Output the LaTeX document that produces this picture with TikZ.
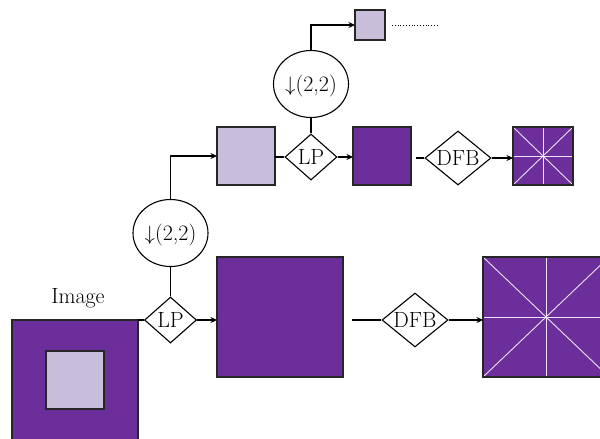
\documentclass[tikz,border=0pt]{standalone}
\usetikzlibrary{shapes.geometric,arrows.meta,calc}
\definecolor{dpurple}{RGB}{108,46,155}
\definecolor{lpurple}{RGB}{200,190,217}
\definecolor{wline}{RGB}{236,228,246}
\begin{document}
\begin{tikzpicture}[x=1pt,y=1pt,
  line width=1.1pt,
  lbl/.style={font=\fontsize{22}{26}\selectfont, text height=14pt, text depth=0pt},
  dbox/.style={draw=black!85, fill=dpurple, line width=1.1pt, inner sep=0pt, outer sep=0pt},
  lbox/.style={draw=black!85, fill=lpurple, line width=1.1pt, inner sep=0pt, outer sep=0pt},
  filt/.style={draw, shape=diamond, lbl, inner sep=0pt, shape aspect=1.3, fill=white},
  down/.style={draw, shape=ellipse, lbl, inner xsep=-9pt, inner ysep=0pt, minimum width=75pt, minimum height=67pt, fill=white},
  arr/.style={-{Stealth[length=6.5pt,width=6pt]}},
  dir/.style={draw=wline, line width=0.9pt}]
\useasboundingbox (0,0) rectangle (600,-439);
\clip (0,0) rectangle (600,-439);

% input image
\node[dbox, minimum width=126pt, minimum height=126pt] (img) at (75,-383) {};
\node[lbox, minimum width=58pt, minimum height=58pt] (inner) at (75,-380) {};
\node[lbl, text height=15pt, text depth=5pt] (imglbl) at (78,-298) {Image};

% first level
\node[filt, minimum width=52pt, minimum height=46pt] (lp1) at (170.5,-320) {LP};
\node[dbox, minimum width=126pt, minimum height=120pt] (big2) at (280,-317) {};
\node[filt, minimum width=66pt, minimum height=54pt] (dfb1) at (415,-320) {DFB};
\node[dbox, minimum width=126pt, minimum height=120pt] (big4) at (546,-317) {};
\node[down] (c1) at (170.5,-233) {$\downarrow$(2,2)};

% second level
\node[lbox, minimum width=58pt, minimum height=58pt] (s2) at (246,-156) {};
\node[filt, minimum width=52pt, minimum height=46pt] (lp2) at (311,-157) {LP};
\node[dbox, minimum width=58pt, minimum height=58pt] (s3) at (382,-156) {};
\node[filt, minimum width=66pt, minimum height=54pt] (dfb2) at (458,-158) {DFB};
\node[dbox, minimum width=60pt, minimum height=58pt] (s4) at (543,-156) {};
\node[down] (c2) at (311,-84) {$\downarrow$(2,2)};

% third level
\node[lbox, minimum width=30pt, minimum height=30pt] (t1) at (370,-25) {};
\coordinate (dotA) at (392,-25);
\coordinate (dotB) at (437,-25);

% directional lines
\foreach \b in {big4,s4}{
  \draw[dir] (\b.north west) -- (\b.south east);
  \draw[dir] (\b.south west) -- (\b.north east);
  \draw[dir] (\b.north) -- (\b.south);
  \draw[dir] (\b.west) -- (\b.east);
  \draw[draw=black!85, line width=1.1pt] (\b.north west) rectangle (\b.south east);
}

% connectors level 1
\draw (img.north east) -- (lp1.west);
\draw[arr] (lp1.east) -- (lp1.east -| big2.west);
\draw ($(big2.east |- dfb1.west)+(9,0)$) -- (dfb1.west);
\draw[arr] (dfb1.east) -- (dfb1.east -| big4.west);
\draw (lp1.north) -- (c1.south);
\draw[arr] (c1.north) |- (s2.west);

% connectors level 2
\draw (s2.east |- lp2.west) -- (lp2.west);
\draw[arr] (lp2.east) -- (lp2.east -| s3.west);
\draw ($(s3.east |- dfb2.west)+(5,0)$) -- (dfb2.west);
\draw[arr] (dfb2.east) -- (dfb2.east -| s4.west);
\draw (lp2.north) -- (c2.south);
\draw[arr] (c2.north) |- (t1.west);
\draw[dotted, line width=0.8pt] (dotA) -- (dotB);
\end{tikzpicture}
\end{document}
